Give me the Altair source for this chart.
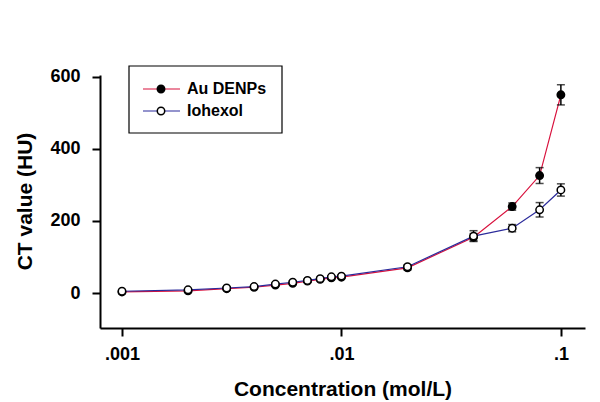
import altair as alt
import pandas as pd

conc = [0.001, 0.002, 0.003, 0.004, 0.005, 0.006, 0.007, 0.008, 0.009, 0.01, 0.02, 0.04, 0.06, 0.08, 0.1]
au_vals = [3, 6, 12, 16, 22, 27, 33, 38, 42, 44, 70, 155, 240, 326, 550]
au_err = [4, 3, 3, 3, 3, 3, 3, 3, 3, 3, 6, 10, 10, 22, 28]
io_vals = [5, 9, 14, 18, 25, 30, 35, 40, 45, 47, 73, 158, 180, 231, 286]
io_err = [4, 3, 3, 3, 4, 4, 3, 3, 3, 3, 5, 15, 10, 20, 17]

series_names = ["Au DENPs", "Iohexol"]
line_colors = ["#d8103c", "#2b2b9b"]
marker_fills = ["black", "white"]

rows = []
for name, vals, errs in [("Au DENPs", au_vals, au_err), ("Iohexol", io_vals, io_err)]:
    for c, v, e in zip(conc, vals, errs):
        rows.append({"series": name, "conc": c, "ct": v, "lo": v - e, "hi": v + e})
df = pd.DataFrame(rows)

FONT = "Liberation Sans"

xscale = alt.Scale(type="log", domain=[0.000794, 0.1288], nice=False)
yscale = alt.Scale(domain=[-97, 605], nice=False, zero=False)

x_enc = alt.X("conc:Q", scale=xscale, axis=alt.Axis(
    values=[0.001, 0.01, 0.1],
    labelExpr="datum.value < 0.005 ? '.001' : (datum.value < 0.05 ? '.01' : '.1')",
    title="Concentration (mol/L)", titleFont=FONT, titleFontSize=21, titleFontWeight="bold",
    titleBaseline="alphabetic", titleY=67, titleColor="black",
    labelFont=FONT, labelFontSize=18, labelFontWeight="bold", labelColor="black", labelPadding=9,
    grid=False, tickSize=8, tickWidth=2, domainWidth=2, domainColor="black", tickColor="black",
    labelFlush=False))
y_enc = alt.Y("ct:Q", scale=yscale, axis=alt.Axis(
    values=[0, 200, 400, 600],
    title="CT value (HU)", titleFont=FONT, titleFontSize=21, titleFontWeight="bold",
    titleX=-75, titleY=126, titleBaseline="middle", titleAlign="center", titleColor="black",
    labelFont=FONT, labelFontSize=18, labelFontWeight="bold", labelColor="black", labelPadding=12,
    grid=False, tickSize=8, tickWidth=2, domainWidth=2, domainColor="black", tickColor="black",
    labelFlush=False))

base = alt.Chart(df)

color_scale = alt.Scale(domain=series_names, range=line_colors)

lines = base.mark_line(strokeWidth=1.2).encode(
    x=x_enc, y=y_enc,
    color=alt.Color("series:N", scale=color_scale, legend=None),
    order=alt.Order("conc:Q"))

err_rule = base.mark_rule(color="black", strokeWidth=1.5).encode(
    x="conc:Q", y="lo:Q", y2="hi:Q")
cap_lo = base.mark_tick(color="black", thickness=1.5, size=8, orient="horizontal").encode(
    x="conc:Q", y="lo:Q")
cap_hi = base.mark_tick(color="black", thickness=1.5, size=8, orient="horizontal").encode(
    x="conc:Q", y="hi:Q")

pts_au = alt.Chart(df[df.series == "Au DENPs"]).mark_point(
    shape="circle", size=55, filled=False, fill="black", stroke="black", strokeWidth=1.5, opacity=1
).encode(x="conc:Q", y="ct:Q")
pts_io = alt.Chart(df[df.series == "Iohexol"]).mark_point(
    shape="circle", size=55, filled=False, fill="white", stroke="black", strokeWidth=1.5, opacity=1
).encode(x="conc:Q", y="ct:Q")

# manual legend (pixel positions within the plot)
leg_box = pd.DataFrame({"x": [29], "x2": [182], "y": [-9], "y2": [58]})
leg = pd.DataFrame({
    "series": series_names,
    "lx1": [43, 43], "lx2": [80, 80], "mx": [61, 61], "tx": [87, 87], "y": [14, 36],
    "fill": marker_fills, "color": line_colors,
})
box = alt.Chart(leg_box).mark_rect(fill="white", stroke="black", strokeWidth=1.2).encode(
    x=alt.X("x:Q", scale=None), x2="x2:Q", y=alt.Y("y:Q", scale=None), y2="y2:Q")
leg_lines = alt.Chart(leg).mark_rule(strokeWidth=1.2).encode(
    x=alt.X("lx1:Q", scale=None), x2="lx2:Q", y=alt.Y("y:Q", scale=None),
    color=alt.Color("color:N", scale=None))
leg_pts = alt.Chart(leg).mark_point(shape="circle", size=55, stroke="black", strokeWidth=1.5, opacity=1).encode(
    x=alt.X("mx:Q", scale=None), y=alt.Y("y:Q", scale=None),
    fill=alt.Fill("fill:N", scale=None))
leg_text = alt.Chart(leg).mark_text(align="left", baseline="middle", font=FONT, fontSize=16,
                                     fontWeight="bold", color="black").encode(
    x=alt.X("tx:Q", scale=None), y=alt.Y("y:Q", scale=None), text="series:N")

chart = alt.layer(
    lines, err_rule, cap_lo, cap_hi, pts_au, pts_io, box, leg_lines, leg_pts, leg_text
).resolve_scale(x="shared", y="shared").properties(
    width=485, height=253,
    autosize=alt.AutoSizeParams(type="none"),
    padding={"left": 92, "top": 67, "right": 7, "bottom": 74},
    background="white",
).configure_view(stroke=None)

chart.save("out.html", embed_options={"renderer": "svg", "actions": False})
